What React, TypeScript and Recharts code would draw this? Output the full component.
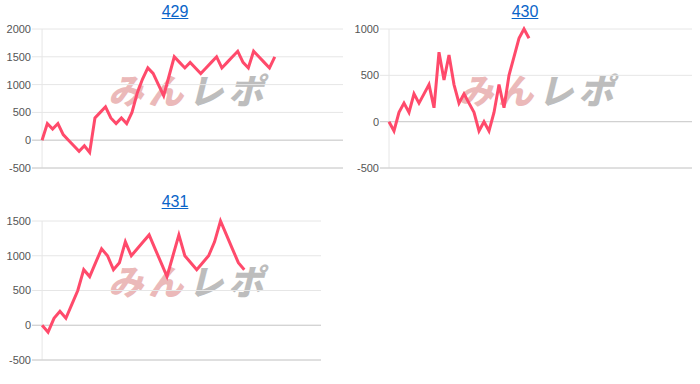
import React from 'react';
import { LineChart, Line, XAxis, YAxis, CartesianGrid, ReferenceLine } from 'recharts';

// 台ごとの差枚推移
const values429 = [
  0, 300, 200, 300, 100, 0, -100, -200, -100, -220,
  400, 500, 600, 400, 300, 400, 300, 500, 850, 1100,
  1300, 1200, 1000, 800, 1150, 1500, 1400, 1300, 1400, 1300,
  1200, 1300, 1400, 1500, 1300, 1400, 1500, 1600, 1400, 1300,
  1600, 1500, 1400, 1300, 1500
];
const values430 = [
  0, -100, 100, 200, 100, 300, 200, 300, 400, 150,
  750, 450, 720, 400, 200, 300, 200, 100, -100, 0,
  -100, 100, 400, 150, 500, 700, 900, 1000, 900
];
const values431 = [
  0, -100, 100, 200, 100, 300, 500, 800, 700, 900,
  1100, 1000, 800, 900, 1200, 1000, 1100, 1200, 1300, 1100,
  900, 700, 1000, 1300, 1000, 900, 800, 900, 1000, 1200,
  1500, 1300, 1100, 900, 800
];

const ticks429 = [-500, 0, 500, 1000, 1500, 2000];
const ticks430 = [-500, 0, 500, 1000];
const ticks431 = [-500, 0, 500, 1000, 1500];

const LINE_COLOR = '#ff4a6b';
const GRID_COLOR = '#e6e6e6';
const BASE_COLOR = '#cccccc';

interface MiniChartProps {
  title: string;
  values: number[];
  ticks: number[];
  xMin: number;
  xMax: number;
  left: number;
  top: number;
  margin: { top: number; right: number; bottom: number; left: number };
  axisWidth: number;
  markLeft: number;
  markTop: number;
}

const MiniChart: React.FC<MiniChartProps> = ({
  title, values, ticks, xMin, xMax, left, top, margin, axisWidth, markLeft, markTop
}) => {
  const data = values.map((v, i) => ({ x: i, y: v }));
  const yMin = ticks[0];
  const yMax = ticks[ticks.length - 1];

  return (
    <>
      {/* ロゴの透かし */}
      <div
        style={{
          position: 'absolute',
          left: markLeft,
          top: markTop,
          fontFamily: '"Noto Sans CJK JP", sans-serif',
          fontWeight: 900,
          fontSize: 35,
          lineHeight: 1,
          whiteSpace: 'nowrap',
          transform: 'skewX(-14deg)',
          letterSpacing: 5
        }}
      >
        <span style={{ color: '#ebb9b9' }}>みん</span>
        <span style={{ color: '#bdbdbd' }}>レポ</span>
      </div>

      <div
        style={{
          position: 'absolute',
          left,
          top: top + 2,
          width: 350,
          textAlign: 'center',
          fontFamily: 'Arial, "Liberation Sans", sans-serif',
          fontSize: 16,
          lineHeight: '20px'
        }}
      >
        <a href="#" style={{ color: '#0a64c8', textDecoration: 'underline' }}>{title}</a>
      </div>

      <div style={{ position: 'absolute', left, top }}>
        <LineChart width={350} height={180} data={data} margin={margin}>
          <CartesianGrid vertical={false} stroke={GRID_COLOR} />
          <XAxis
            type="number"
            dataKey="x"
            domain={[xMin, xMax]}
            allowDataOverflow
            hide
          />
          <YAxis
            type="number"
            domain={[yMin, yMax]}
            ticks={ticks}
            interval={0}
            width={axisWidth}
            axisLine={false}
            tickLine={false}
            tickSize={0}
            tickMargin={1}
            tick={{ fill: '#555', fontSize: 11, fontFamily: 'Arial, "Liberation Sans", sans-serif' }}
          />
          <ReferenceLine x={0} stroke={GRID_COLOR} />
          <ReferenceLine y={0} stroke={BASE_COLOR} />
          <ReferenceLine y={yMin} stroke={BASE_COLOR} />
          <Line
            type="linear"
            dataKey="y"
            stroke={LINE_COLOR}
            strokeWidth={3}
            dot={false}
            activeDot={false}
            isAnimationActive={false}
          />
        </LineChart>
      </div>
    </>
  );
};

export default function App() {
  return (
    <div style={{ position: 'absolute', left: 0, top: 0, width: 700, height: 384, background: '#fff' }}>
      <MiniChart
        title="429"
        values={values429}
        ticks={ticks429}
        xMin={-1.9}
        xMax={56.9}
        left={0}
        top={0}
        margin={{ top: 29, right: 7, bottom: 12, left: 0 }}
        axisWidth={32}
        markLeft={112}
        markTop={71}
      />
      <MiniChart
        title="430"
        values={values430}
        ticks={ticks430}
        xMin={-1.8}
        xMax={60.6}
        left={350}
        top={0}
        margin={{ top: 29, right: 8, bottom: 12, left: 0 }}
        axisWidth={30}
        markLeft={462}
        markTop={71}
      />
      <MiniChart
        title="431"
        values={values431}
        ticks={ticks431}
        xMin={-1.7}
        xMax={46.9}
        left={0}
        top={190}
        margin={{ top: 31, right: 29, bottom: 10, left: 0 }}
        axisWidth={32}
        markLeft={112}
        markTop={262}
      />
    </div>
  );
}
